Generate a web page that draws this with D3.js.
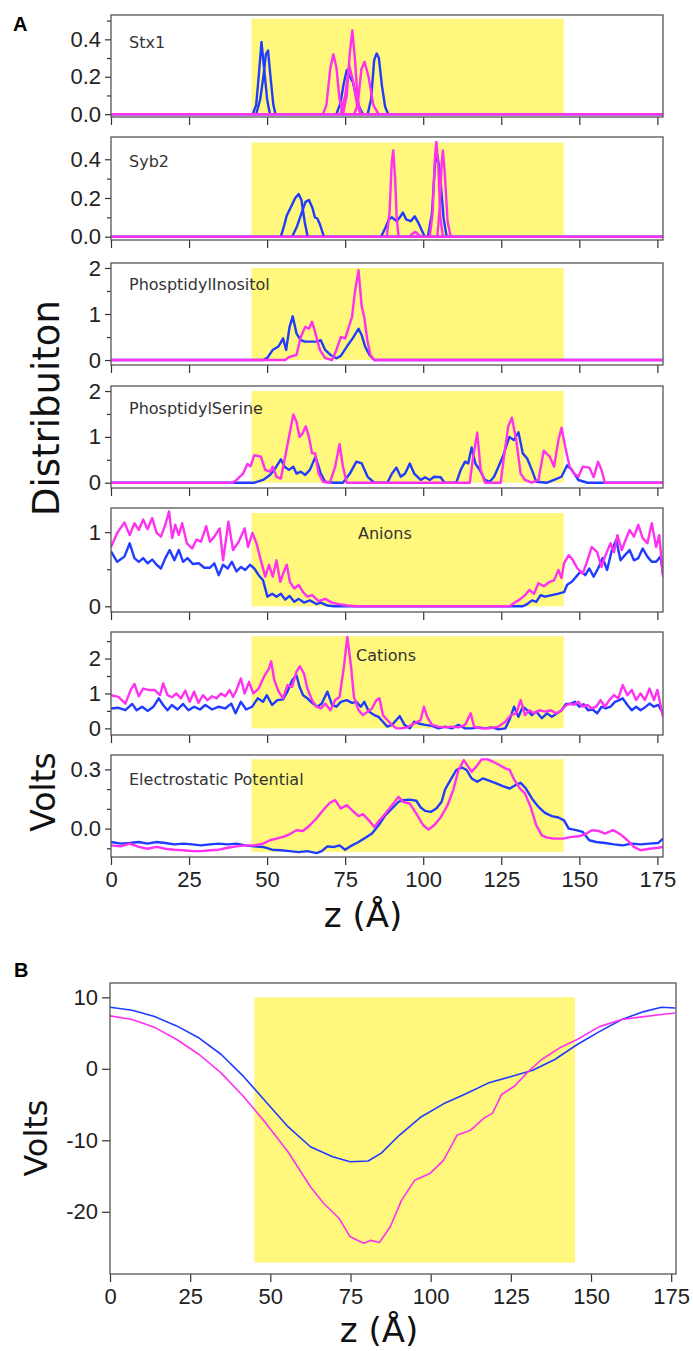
<!DOCTYPE html>
<html>
<head>
<meta charset="utf-8">
<script src="https://cdn.jsdelivr.net/npm/d3@7"></script>
<style>
  body { margin: 0; background: #fff; }
  svg { display: block; }
  .tick text { font-family: "Liberation Sans", Arial, sans-serif; fill: #222; }
  .tick line { stroke: #333; stroke-width: 1.2; }
</style>
</head>
<body>
<svg id="fig" width="693" height="1351"></svg>
<script>
// z positions of the x ticks, membrane (yellow) region
const zTicks = [0, 25, 50, 75, 100, 125, 150, 175]
const membrane = [45, 145]

// Stx1: several curves per colour, each [z, value]
const stx1Blue = [
  [[0, 0], [176.8, 0]],
  [[45.4, 0], [46.5, 0.05], [47.3, 0.2], [48.2, 0.386], [49, 0.25], [50, 0.08], [50.9, 0]],
  [[46.5, 0], [47.8, 0.08], [48.8, 0.2], [49.6, 0.32], [50.3, 0.34], [51.2, 0.18], [52, 0.05], [52.7, 0]],
  [[72.2, 0], [73.5, 0.06], [74.5, 0.16], [75.5, 0.235], [76.5, 0.2], [77.5, 0.17], [78.5, 0.1], [79.5, 0.04], [80.7, 0]],
  [[82.2, 0], [83.3, 0.08], [84.3, 0.29], [85.1, 0.324], [85.8, 0.3], [86.8, 0.15], [87.8, 0.04], [88.8, 0]]
]
const stx1Mag = [
  [[0, 0], [176.8, 0]],
  [[67.9, 0], [69, 0.05], [70.2, 0.24], [71.2, 0.32], [72.2, 0.25], [73.2, 0.08], [74.3, 0]],
  [[74.3, 0], [75.5, 0.1], [76.5, 0.33], [77.3, 0.448], [78.1, 0.3], [79, 0.08], [80, 0]],
  [[77.9, 0], [79, 0.05], [80.2, 0.24], [81.2, 0.28], [82.5, 0.2], [84, 0.05], [85.7, 0]],
  [[73.5, 0], [75, 0.1], [76.3, 0.26], [77.5, 0.18], [78.8, 0.05], [80, 0]]
]

// Syb2
const syb2Blue = [
  [[0, 0], [176.8, 0]],
  [[54.4, 0], [55.5, 0.06], [56.3, 0.11], [57.5, 0.15], [59, 0.2], [60.1, 0.22], [61, 0.19], [62, 0.08], [63, 0]],
  [[58, 0], [59.5, 0.05], [61, 0.12], [62.3, 0.18], [63.4, 0.19], [64.5, 0.15], [65.3, 0.1], [66.1, 0.094], [67, 0.06], [68.2, 0]],
  [[86.5, 0], [88, 0.05], [89, 0.09], [90, 0.1], [91.5, 0.08], [92.5, 0.1], [93.5, 0.125], [94.5, 0.09], [96, 0.08], [97.3, 0.105], [98.5, 0.07], [100.5, 0]],
  [[101.5, 0], [102.8, 0.12], [103.8, 0.38], [104.6, 0.42], [105.5, 0.3], [106.5, 0.1], [107.5, 0]]
]
const syb2Mag = [
  [[0, 0], [176.8, 0]],
  [[88.3, 0], [89.2, 0.12], [89.9, 0.38], [90.4, 0.446], [91, 0.3], [91.5, 0.1], [92.1, 0]],
  [[102.1, 0], [103, 0.12], [103.7, 0.4], [104.2, 0.49], [104.8, 0.38], [105.5, 0.1], [106.3, 0]],
  [[104.5, 0], [105.3, 0.15], [105.9, 0.38], [106.3, 0.445], [106.9, 0.33], [107.8, 0.08], [108.8, 0]],
  [[95.5, 0], [96.5, 0.015], [97.5, 0.025], [98.5, 0.01], [99.5, 0]]
]

// PhosptidylInositol
const piBlue = [[0, 0], [48.7, 0], [50.1, 0.05], [51.8, 0.22], [53.7, 0.3], [55.1, 0.47], [56.1, 0.22], [57.2, 0.72], [58.2, 0.95], [59.4, 0.58], [60.8, 0.43], [62.2, 0.4], [64.4, 0.4], [65.8, 0.4], [67.2, 0.43], [68.6, 0.22], [70.3, 0.11], [72.2, 0.04], [73.6, 0.09], [75.8, 0.32], [77.4, 0.47], [79.3, 0.68], [80.3, 0.54], [81.4, 0.29], [82.8, 0.11], [84.3, 0], [176.8, 0]]
const piMag = [[0, 0], [55.8, 0], [57.2, 0.07], [59.4, 0.11], [60.8, 0.5], [62.2, 0.72], [63.4, 0.68], [64.4, 0.83], [65.5, 0.58], [66.9, 0.22], [68.6, 0.04], [70.8, 0], [72.2, 0.22], [73.6, 0.5], [75, 0.47], [76, 0.68], [77.2, 0.94], [78.2, 1.52], [79.3, 1.95], [80.3, 1.16], [81.1, 0.94], [82.1, 0.43], [83.1, 0.11], [84.3, 0], [176.8, 0]]

// PhosptidylSerine
const psBlue = [[0, 0], [45.9, 0], [48.7, 0.06], [50.9, 0.17], [52.3, 0.28], [54.4, 0.51], [55.6, 0.35], [57, 0.28], [58.4, 0.35], [59.4, 0.2], [60.8, 0.24], [62.2, 0.17], [63.7, 0.28], [65.5, 0.57], [67.2, 0.2], [68.6, 0.02], [71.5, 0], [74.3, 0], [76.5, 0.2], [78.6, 0.46], [80.3, 0.42], [82.2, 0.13], [84.3, 0], [88.5, 0], [90, 0.2], [91.4, 0.33], [92.8, 0.13], [94.2, 0.2], [95.7, 0.42], [97.1, 0.2], [99.2, 0.06], [100.6, 0.12], [102.1, 0.06], [103.5, 0.13], [105.6, 0.12], [106.8, 0], [110.6, 0], [112, 0.28], [113.4, 0.46], [114.4, 0.42], [115.5, 0.77], [116.7, 0.42], [118.1, 0.28], [119.8, 0.06], [121.3, 0.02], [122.7, 0.13], [124.1, 0.35], [125.5, 0.57], [127.6, 1.0], [129, 0.93], [130.5, 1.1], [131.9, 0.64], [133.3, 0.53], [134.8, 0.28], [136.2, 0.02], [139.7, 0], [141.9, 0.06], [144.3, 0.13], [146.1, 0.38], [147.6, 0.28], [149.7, 0.06], [152.6, 0], [176.8, 0]]
const psMag = [[0, 0], [38.8, 0], [40.2, 0.06], [42.3, 0.2], [43.7, 0.41], [44.7, 0.36], [45.9, 0.6], [48, 0.57], [49.4, 0.28], [50.9, 0.24], [51.8, 0.35], [53, 0.13], [54.4, 0.09], [55.8, 0.57], [57.2, 1.07], [58.4, 1.49], [59.4, 1.33], [60.4, 1.0], [61.3, 1.07], [62.4, 1.23], [63.4, 1.0], [64.4, 0.64], [65.4, 0.64], [66.5, 0.2], [67.9, 0.02], [70.1, 0], [71.8, 0.35], [73.2, 0.84], [74.3, 0.35], [75.5, 0], [114.9, 0], [116, 0.57], [117.3, 1.09], [118.4, 0.28], [119.8, 0], [124.8, 0], [126, 0.64], [127.2, 1.22], [128.4, 1.42], [129.8, 0.93], [131.2, 0.2], [132.6, 0.06], [134.8, 0], [136.9, 0.06], [138.6, 0.7], [140.5, 0.57], [141.9, 0.35], [143.3, 0.93], [144.3, 1.2], [145.5, 0.78], [146.9, 0.35], [148.3, 0.2], [149.7, 0.13], [151.1, 0.35], [153.2, 0.33], [154.6, 0.12], [156, 0.46], [157.1, 0.28], [158.2, 0], [176.8, 0]]

// Anions
const anBlue = [[0, 0.74], [2, 0.6], [4.3, 0.67], [6, 0.85], [7.5, 0.65], [8.9, 0.6], [10.3, 0.65], [11.7, 0.58], [13.2, 0.63], [14.6, 0.56], [16, 0.51], [17.4, 0.65], [18.8, 0.76], [20.3, 0.62], [21.7, 0.76], [23.1, 0.6], [24.5, 0.65], [26.2, 0.57], [28.1, 0.58], [29.9, 0.52], [31.7, 0.52], [33.1, 0.58], [34.5, 0.42], [35.9, 0.56], [37.4, 0.51], [38.7, 0.6], [40.2, 0.47], [41.6, 0.53], [43, 0.49], [44.5, 0.56], [45.9, 0.51], [47.3, 0.42], [48.7, 0.35], [50.1, 0.13], [51.6, 0.17], [53, 0.13], [54.4, 0.17], [55.8, 0.09], [57.2, 0.14], [58.7, 0.06], [60.1, 0.1], [61.8, 0.05], [63.7, 0.08], [65.8, 0.03], [67.2, 0.05], [69.3, 0.01], [71.5, 0], [131.9, 0], [133.3, 0.03], [134.8, 0.08], [136.2, 0.06], [137.6, 0.15], [139, 0.13], [141.2, 0.15], [143.3, 0.17], [145.1, 0.19], [146.1, 0.29], [147.6, 0.33], [149, 0.4], [150.4, 0.47], [151.9, 0.42], [153.2, 0.51], [154.6, 0.4], [156, 0.51], [157.5, 0.65], [158.9, 0.49], [160.3, 0.74], [161.8, 0.9], [163.2, 0.62], [164.6, 0.69], [166.1, 0.76], [167.5, 0.62], [168.9, 0.65], [170.3, 0.78], [171.8, 0.67], [173.2, 0.6], [174.6, 0.6], [176, 0.67], [176.8, 0.44]]
const anMag = [[0, 0.8], [2, 0.99], [4.3, 1.13], [6, 0.96], [7.5, 1.12], [8.9, 1.03], [10.3, 1.17], [11.7, 1.04], [13.2, 1.19], [14.6, 0.99], [16, 0.94], [17.4, 1.1], [18.6, 1.28], [19.6, 0.92], [20.6, 1.1], [21.7, 0.96], [22.8, 1.12], [24.3, 0.85], [26, 0.78], [27.4, 0.9], [28.8, 0.87], [30.5, 1.08], [31.7, 0.87], [33.1, 0.94], [34.8, 1.05], [35.9, 0.62], [37.6, 1.14], [39.1, 0.76], [40.9, 0.87], [42.8, 1.05], [43.9, 0.8], [45.3, 0.99], [46.6, 0.85], [48, 0.62], [49.4, 0.4], [50.6, 0.56], [51.8, 0.4], [53, 0.62], [54.2, 0.33], [55.4, 0.47], [56.3, 0.56], [57.3, 0.33], [58.7, 0.24], [60.1, 0.29], [61.5, 0.19], [62.9, 0.13], [64.4, 0.15], [66.5, 0.07], [68.6, 0.1], [70.8, 0.05], [72.9, 0.03], [75.7, 0.01], [78.6, 0], [127.7, 0], [129, 0.04], [131.2, 0.1], [132.6, 0.15], [134, 0.22], [135.5, 0.17], [136.9, 0.31], [138.6, 0.27], [140.5, 0.33], [141.9, 0.35], [143.3, 0.49], [144.3, 0.38], [145.1, 0.58], [146.6, 0.69], [148, 0.62], [149.4, 0.51], [151.1, 0.44], [152.6, 0.62], [154, 0.8], [155.7, 0.73], [157.1, 0.53], [158.2, 0.67], [160, 0.85], [161.1, 0.73], [162.2, 0.96], [163.6, 0.76], [164.6, 0.87], [166.1, 1.03], [167.5, 0.94], [168.9, 1.1], [170.3, 0.92], [171.8, 0.85], [173.2, 1.12], [174.6, 0.8], [175.6, 0.96], [176.8, 0.4]]

// Cations
const catBlue = [[0, 0.57], [2.4, 0.59], [4.6, 0.52], [6.8, 0.7], [8.2, 0.52], [10, 0.62], [11.7, 0.5], [13.6, 0.62], [15.3, 0.86], [16.7, 0.67], [18.1, 0.52], [19.5, 0.67], [21.3, 0.54], [23.1, 0.7], [24.8, 0.52], [26.6, 0.62], [28.5, 0.54], [30.2, 0.67], [32.4, 0.54], [34.5, 0.62], [36.6, 0.57], [38.5, 0.71], [39.9, 0.43], [41.6, 0.76], [43.3, 0.54], [45.2, 0.62], [47, 0.86], [48.7, 0.76], [49.9, 0.95], [51.6, 0.67], [53.3, 0.81], [55.1, 0.83], [56.5, 1.05], [58, 1.38], [59.4, 1.52], [60.4, 1.19], [61.5, 0.95], [62.9, 0.86], [64.4, 0.73], [66.1, 0.62], [67.5, 0.71], [69.3, 1.05], [70.8, 0.67], [72.2, 0.62], [73.6, 0.76], [75.5, 0.81], [77.2, 0.73], [78.6, 0.76], [80, 0.62], [81.1, 0.76], [82.6, 0.48], [84.3, 0.38], [85.7, 0.33], [87.1, 0.19], [88.5, 0.05], [90, 0.1], [91.4, 0.24], [92.5, 0.35], [94, 0.1], [95.7, 0], [97.1, 0.19], [98.5, 0.14], [100.6, 0.1], [102.8, 0.07], [104.9, 0], [107, 0.05], [109.2, 0], [111.3, 0.1], [113.4, 0], [115.5, 0], [117.7, 0.03], [119.8, 0], [121.9, 0.03], [124.1, -0.03], [126.3, 0], [127.7, 0.26], [129.1, 0.62], [130.5, 0.33], [131.9, 0.62], [133.3, 0.52], [134.8, 0.38], [136.2, 0.48], [138, 0.29], [139.7, 0.43], [141.2, 0.33], [142.9, 0.43], [144.3, 0.52], [145.7, 0.7], [147.2, 0.7], [148.6, 0.76], [150, 0.62], [151.4, 0.69], [152.8, 0.52], [154.3, 0.54], [155.7, 0.43], [157.1, 0.62], [158.5, 0.57], [160, 0.62], [161.4, 0.76], [162.8, 0.81], [163.9, 0.86], [165.4, 0.67], [166.8, 0.52], [168.2, 0.62], [169.6, 0.52], [171, 0.6], [172.5, 0.71], [173.9, 0.62], [175.3, 0.67], [176.8, 0.43]]
const catMag = [[0, 0.95], [2.4, 0.9], [4.6, 0.71], [6.3, 1.1], [7.5, 1.27], [8.9, 0.92], [10.3, 1.14], [12, 1.1], [13.9, 1.1], [15.7, 0.95], [16.7, 1.29], [18.1, 0.95], [19.5, 0.89], [20.9, 1.0], [22.4, 0.86], [23.8, 1.08], [25.2, 0.76], [26.6, 1.05], [28, 0.73], [29.5, 0.95], [30.9, 0.81], [32.4, 0.92], [33.8, 0.86], [35.2, 1.0], [36.6, 0.92], [38, 1.1], [39.1, 0.9], [40.2, 1.1], [41.6, 1.43], [42.8, 1.0], [44.2, 1.33], [45.6, 1.0], [47.3, 1.14], [49, 1.48], [50.6, 1.71], [51.3, 1.92], [52.3, 1.38], [53.7, 1.05], [55.1, 0.86], [56.5, 1.24], [58, 1.19], [59.4, 1.62], [60.5, 1.78], [61.8, 1.57], [62.9, 1.14], [64.4, 0.81], [65.8, 0.62], [67.2, 0.57], [68.6, 0.71], [70.3, 0.52], [71.8, 0.81], [73.2, 0.9], [74.6, 1.76], [75.7, 2.62], [76.9, 1.76], [77.8, 0.9], [79.3, 0.52], [80.7, 0.38], [82.2, 0.48], [83.6, 0.57], [85, 0.81], [86, 0.86], [87.1, 0.38], [88.5, 0.24], [90, 0.1], [91.4, 0], [92.8, 0], [94.9, 0.03], [97.1, 0.14], [99.2, 0.24], [100.2, 0.62], [101.3, 0.33], [102.8, 0.1], [104.9, 0.05], [107, 0.03], [109.2, 0.05], [111.3, 0.03], [113.4, 0.1], [115.2, 0.43], [116.3, 0.05], [118.4, 0], [121.3, 0], [124.1, 0.05], [126.3, 0.19], [128.1, 0.38], [129.8, 0.43], [131.2, 0.81], [132.6, 0.38], [134, 0.52], [135.5, 0.43], [137.2, 0.52], [139, 0.48], [140.9, 0.52], [142.6, 0.43], [144.3, 0.52], [145.5, 0.64], [146.9, 0.71], [148.3, 0.67], [149.7, 0.76], [151.1, 0.62], [152.6, 0.67], [154, 0.57], [155.4, 0.62], [156.8, 0.81], [158.2, 0.62], [159.6, 0.81], [161.1, 0.95], [162.5, 0.86], [163.9, 1.24], [165.4, 0.95], [166.8, 1.1], [168.2, 0.81], [169.6, 1.0], [171, 0.81], [172.5, 1.14], [173.9, 0.81], [175, 1.1], [176.8, 0.33]]

// Electrostatic potential (Volts)
const epBlue = [[0, -0.068], [3.1, -0.076], [6, -0.073], [8.9, -0.068], [11.7, -0.076], [14.6, -0.068], [17.4, -0.073], [20.3, -0.08], [23.1, -0.076], [26, -0.08], [28.8, -0.085], [31.7, -0.08], [34.5, -0.076], [37.4, -0.08], [40.2, -0.076], [43, -0.085], [45.9, -0.09], [48.7, -0.093], [51.6, -0.107], [54.4, -0.11], [57.2, -0.114], [60.1, -0.119], [62.9, -0.114], [65.8, -0.124], [67.5, -0.114], [69.3, -0.09], [71.5, -0.093], [73.2, -0.085], [75, -0.107], [77.2, -0.085], [79.3, -0.068], [81.5, -0.046], [83.6, -0.025], [85.7, 0.017], [87.9, 0.068], [90, 0.102], [92.1, 0.136], [93.5, 0.144], [95.7, 0.147], [97.8, 0.141], [99.2, 0.107], [100.6, 0.09], [102.5, 0.085], [104.2, 0.102], [105.9, 0.136], [107, 0.198], [108.7, 0.246], [110.6, 0.297], [112.4, 0.31], [113.9, 0.297], [115.5, 0.254], [117.3, 0.237], [119.1, 0.254], [121.3, 0.242], [123.4, 0.229], [125.5, 0.215], [127.7, 0.203], [129.5, 0.22], [131.2, 0.232], [132.9, 0.203], [134.8, 0.153], [136.9, 0.11], [139, 0.08], [141.2, 0.063], [143.3, 0.056], [145.1, 0.042], [146.6, 0], [149, -0.008], [151.1, -0.017], [153.2, -0.059], [155.4, -0.068], [158.2, -0.073], [161.1, -0.08], [163.9, -0.085], [166.8, -0.076], [169.6, -0.08], [172.5, -0.076], [175.3, -0.073], [176.8, -0.051]]
const epMag = [[0, -0.085], [3.1, -0.09], [6, -0.076], [8.9, -0.093], [11.7, -0.102], [14.6, -0.093], [17.4, -0.102], [20.3, -0.107], [23.1, -0.11], [26, -0.114], [28.8, -0.114], [31.7, -0.11], [34.5, -0.107], [37.4, -0.097], [40.2, -0.09], [43, -0.085], [45.9, -0.085], [48.7, -0.076], [50.9, -0.059], [53, -0.051], [55.1, -0.042], [57.2, -0.029], [59.4, -0.008], [61.5, -0.012], [63.7, 0.017], [65.8, 0.051], [67.9, 0.093], [70.1, 0.131], [71.8, 0.144], [73.6, 0.102], [75.5, 0.119], [77.2, 0.093], [79.3, 0.063], [80.7, 0.073], [82.6, 0.042], [84.3, 0.008], [86, 0.042], [87.9, 0.076], [90, 0.119], [92.1, 0.161], [93.5, 0.136], [95.7, 0.127], [97.8, 0.076], [100, 0.017], [101.7, -0.005], [103.5, 0.017], [105.6, 0.056], [107.8, 0.119], [109.6, 0.195], [111.3, 0.297], [113, 0.347], [114.4, 0.314], [115.5, 0.288], [117, 0.314], [118.7, 0.351], [120.6, 0.351], [122.4, 0.339], [124.4, 0.322], [126.3, 0.305], [127.7, 0.297], [129.1, 0.249], [131, 0.203], [132.6, 0.178], [134.4, 0.11], [136.2, 0.017], [138, -0.034], [139.7, -0.046], [141.9, -0.051], [144.7, -0.051], [147.6, -0.042], [149.7, -0.039], [151.9, -0.029], [154, -0.008], [156.2, -0.012], [158.2, -0.025], [160.8, -0.008], [163.2, -0.029], [165.4, -0.059], [167.5, -0.093], [169.6, -0.11], [172.5, -0.102], [175.3, -0.097], [176.8, -0.093]]

// Panel B potential
const bBlue = [[0, 8.6], [6.9, 8.2], [13.9, 7.3], [20.8, 6.0], [27.8, 4.3], [34.7, 2.0], [41.7, -1.1], [48.6, -4.6], [55.5, -8.1], [62.5, -10.9], [69.4, -12.3], [74.9, -13.0], [80.5, -12.9], [84.6, -11.8], [90.2, -9.3], [97.1, -6.7], [104, -4.9], [111, -3.5], [117.9, -2.0], [124.9, -1.1], [131.8, -0.2], [138.7, 1.3], [145.7, 3.4], [152.6, 5.2], [159.6, 6.9], [166.5, 8.0], [172, 8.6], [176.2, 8.5]]
const bMag = [[0, 7.4], [6.9, 6.9], [13.9, 5.8], [20.8, 4.1], [27.8, 2.0], [34.7, -0.6], [41.7, -3.9], [48.6, -7.6], [55.5, -11.6], [62.5, -16.5], [66.6, -18.8], [71.4, -20.9], [74.9, -23.5], [79.1, -24.4], [81.2, -24.0], [84, -24.3], [87.4, -22.1], [90.9, -18.4], [95, -15.6], [99.9, -14.6], [104, -12.8], [108.2, -9.3], [112.4, -8.6], [116.6, -6.9], [119.3, -6.2], [122.1, -3.6], [126.2, -2.4], [130.4, -0.4], [134.6, 1.3], [140.1, 2.9], [145.7, 4.1], [152.6, 5.9], [159.6, 6.9], [166.5, 7.3], [172, 7.6], [176.2, 7.8]]

const BLUE = '#1f3cff'
const MAG = '#ff30f0'
const YELLOW = '#fff87c'

const svg = d3.select('#fig')
const xA = d3.scaleLinear().domain([0, 176.8]).range([111, 663])
const xB = d3.scaleLinear().domain([0, 176.5]).range([110, 676])
const plain = d => String(d)

const panelsA = [
  { id: 'stx', label: 'Stx1', top: 15, bottom: 117, dom: [-0.015, 0.53], band: [0, 0.51], major: [0, 0.2, 0.4], minor: [0.1, 0.3, 0.5], fmt: d3.format('.1f'), blue: stx1Blue, mag: stx1Mag, lx: 129, ly: 48 },
  { id: 'syb', label: 'Syb2', top: 137, bottom: 240, dom: [-0.017, 0.515], band: [0, 0.486], major: [0, 0.2, 0.4], minor: [0.1, 0.3], fmt: d3.format('.1f'), blue: syb2Blue, mag: syb2Mag, lx: 129, ly: 167 },
  { id: 'pi', label: 'PhosptidylInositol', top: 263, bottom: 365, dom: [-0.108, 2.108], band: [0, 2], major: [0, 1, 2], minor: [0.5, 1.5], fmt: plain, blue: [piBlue], mag: [piMag], lx: 129, ly: 290 },
  { id: 'ps', label: 'PhosptidylSerine', top: 386, bottom: 488, dom: [-0.115, 2.11], band: [0, 2], major: [0, 1, 2], minor: [0.5, 1.5], fmt: plain, blue: [psBlue], mag: [psMag], lx: 129, ly: 414 },
  { id: 'an', label: 'Anions', top: 508, bottom: 612, dom: [-0.077, 1.326], band: [0, 1.258], major: [0, 1], minor: [0.5], fmt: plain, blue: [anBlue], mag: [anMag], lx: 358, ly: 539 },
  { id: 'cat', label: 'Cations', top: 632, bottom: 735, dom: [-0.19, 2.76], band: [0, 2.64], major: [0, 1, 2], minor: [0.5, 1.5, 2.5], fmt: plain, blue: [catBlue], mag: [catMag], lx: 356, ly: 661 },
  { id: 'ep', label: 'Electrostatic Potential', top: 755, bottom: 857, dom: [-0.144, 0.373], band: [-0.119, 0.351], major: [0, 0.3], minor: [-0.1, 0.1, 0.2], fmt: d3.format('.1f'), blue: [epBlue], mag: [epMag], lx: 129, ly: 785, xlabels: true }
]

const panelB = { id: 'b', top: 983, bottom: 1274, dom: [-28.7, 12.0], band: [-27.1, 10], major: [-20, -10, 0, 10], minor: [], fmt: plain, blue: [bBlue], mag: [bMag], xlabels: true, lw: 1.6, tick: 8 }

function drawPanel (p, x) {
  const y = d3.scaleLinear().domain(p.dom).range([p.bottom, p.top])
  const [x0, x1] = x.range()
  const g = svg.append('g').attr('class', 'panel-' + p.id)

  svg.append('clipPath').attr('id', 'clip-' + p.id)
    .append('rect').attr('x', x0).attr('y', p.top).attr('width', x1 - x0).attr('height', p.bottom - p.top)

  g.append('rect')
    .attr('x', x(membrane[0]))
    .attr('width', x(membrane[1]) - x(membrane[0]))
    .attr('y', y(p.band[1]))
    .attr('height', y(p.band[0]) - y(p.band[1]))
    .attr('fill', YELLOW)

  const line = d3.line().x(d => x(d[0])).y(d => y(d[1]))
  const lines = g.append('g').attr('clip-path', `url(#clip-${p.id})`)
  p.blue.forEach(c => lines.append('path').attr('d', line(c)).attr('fill', 'none')
    .attr('stroke', BLUE).attr('stroke-width', p.lw || 2.4).attr('stroke-linejoin', 'round'))
  p.mag.forEach(c => lines.append('path').attr('d', line(c)).attr('fill', 'none')
    .attr('stroke', MAG).attr('stroke-width', p.lw || 2.4).attr('stroke-linejoin', 'round'))

  // y axis, major + minor ticks
  const tk = p.tick || 6
  g.append('g').attr('transform', `translate(${x0},0)`)
    .call(d3.axisLeft(y).tickValues(p.major).tickSize(tk).tickPadding(4).tickFormat(p.fmt))
    .call(a => a.select('.domain').remove())
    .selectAll('text').style('font-size', '22px')
  if (p.minor.length) {
    g.append('g').attr('transform', `translate(${x0},0)`)
      .call(d3.axisLeft(y).tickValues(p.minor).tickSize(4).tickFormat(''))
      .call(a => a.select('.domain').remove())
  }

  // x axis
  g.append('g').attr('transform', `translate(0,${p.bottom})`)
    .call(d3.axisBottom(x).tickValues(zTicks).tickSize(8).tickPadding(6)
      .tickFormat(p.xlabels ? d3.format('d') : ''))
    .call(a => a.select('.domain').remove())
    .selectAll('text').style('font-size', '22px')

  // frame
  g.append('rect').attr('x', x0).attr('y', p.top).attr('width', x1 - x0).attr('height', p.bottom - p.top)
    .attr('fill', 'none').attr('stroke', '#555').attr('stroke-width', 1.3)

  if (p.label) {
    g.append('text').attr('x', p.lx).attr('y', p.ly)
      .style('font-family', '"DejaVu Sans", sans-serif').style('font-size', '16px').style('fill', '#333')
      .text(p.label)
  }
}

panelsA.forEach(p => drawPanel(p, xA))
drawPanel(panelB, xB)

const big = (size) => (sel) => sel.style('font-family', '"DejaVu Sans", sans-serif').style('font-size', size + 'px').style('fill', '#111')

svg.append('text').attr('transform', 'translate(59,408) rotate(-90)').attr('text-anchor', 'middle').call(big(37)).text('Distribuiton')
svg.append('text').attr('transform', 'translate(55,792) rotate(-90)').attr('text-anchor', 'middle').call(big(33)).text('Volts')
svg.append('text').attr('x', 363).attr('y', 927).attr('text-anchor', 'middle').call(big(34)).text('z (Å)')
svg.append('text').attr('transform', 'translate(47,1138) rotate(-90)').attr('text-anchor', 'middle').call(big(32)).text('Volts')
svg.append('text').attr('x', 379).attr('y', 1342).attr('text-anchor', 'middle').call(big(34)).text('z (Å)')

const letter = (sel) => sel.style('font-family', '"Liberation Sans", Arial, sans-serif').style('font-weight', 'bold').style('font-size', '20px').style('fill', '#000')
svg.append('text').attr('x', 13).attr('y', 31).call(letter).text('A')
svg.append('text').attr('x', 14).attr('y', 977).call(letter).text('B')
</script>
</body>
</html>
